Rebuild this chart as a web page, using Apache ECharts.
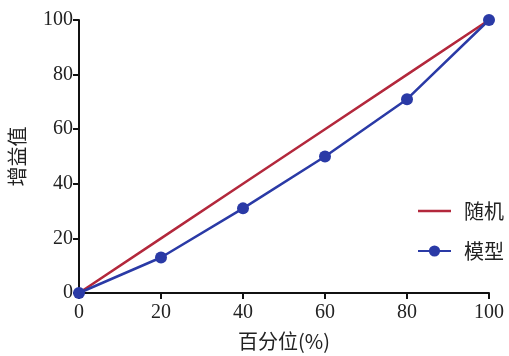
<!DOCTYPE html>
<html>
<head>
<meta charset="utf-8">
<script src="https://cdn.jsdelivr.net/npm/echarts@6/dist/echarts.min.js"></script>
<style>
  html, body { margin: 0; padding: 0; background: #fff; }
  #chart { width: 509px; height: 356px; }
</style>
</head>
<body>
<div id="chart"></div>
<script>
  // 百分位与增益值
  const percentiles = [0, 20, 40, 60, 80, 100]
  const randomGain = [0, 20, 40, 60, 80, 100]
  const modelGain = [0, 13, 31, 50, 71, 100]
  const seriesNames = ['随机', '模型']

  const serif = '"Liberation Serif", "DejaVu Serif", serif'
  const cjk = '"Noto Sans CJK SC", sans-serif'

  const toPairs = (ys) => percentiles.map((x, i) => [x, ys[i]])

  const myChart = echarts.init(document.getElementById('chart'))
  const option = {
    animation: false,
    backgroundColor: '#fff',
    grid: {
      left: 79,
      right: 20,
      top: 20,
      bottom: 63,
      containLabel: false,
      outerBoundsMode: 'none'
    },
    legend: {
      orient: 'vertical',
      left: 412,
      top: 196,
      itemWidth: 33,
      itemHeight: 14,
      itemGap: 20,
      textStyle: { fontFamily: cjk, fontSize: 20, color: '#222', padding: [0, 0, 0, 8] },
      data: [
        { name: seriesNames[0], icon: 'path://M0,6 L33,6 L33,8.5 L0,8.5 Z' },
        { name: seriesNames[1] }
      ]
    },
    xAxis: {
      type: 'value',
      min: 0,
      max: 100,
      interval: 20,
      name: '百分位(%)',
      nameLocation: 'middle',
      nameGap: 38,
      nameTextStyle: { fontFamily: cjk, fontSize: 20, color: '#222' },
      axisLine: { lineStyle: { color: '#111', width: 2 } },
      axisTick: { show: true, length: 6, lineStyle: { color: '#111', width: 2 } },
      axisLabel: { fontFamily: serif, fontSize: 20, color: '#222', margin: 10 },
      splitLine: { show: false }
    },
    yAxis: {
      type: 'value',
      min: 0,
      max: 100,
      interval: 20,
      name: '增益值',
      nameLocation: 'middle',
      nameGap: 52,
      nameRotate: 90,
      nameTextStyle: { fontFamily: cjk, fontSize: 20, color: '#222' },
      axisLine: { show: true, lineStyle: { color: '#111', width: 2 } },
      axisTick: { show: true, length: 6, lineStyle: { color: '#111', width: 2 } },
      axisLabel: { fontFamily: serif, fontSize: 20, color: '#222', margin: 6 },
      splitLine: { show: false }
    },
    series: [
      {
        name: seriesNames[0],
        type: 'line',
        data: toPairs(randomGain),
        showSymbol: false,
        symbol: 'none',
        lineStyle: { color: '#b3283c', width: 2.5 },
        itemStyle: { color: '#b3283c' },
        z: 2
      },
      {
        name: seriesNames[1],
        type: 'line',
        data: toPairs(modelGain),
        symbol: 'circle',
        symbolSize: 12,
        lineStyle: { color: '#2a3aa6', width: 2.5 },
        itemStyle: { color: '#2a3aa6' },
        z: 3
      }
    ]
  }
  option && myChart.setOption(option)
</script>
</body>
</html>
